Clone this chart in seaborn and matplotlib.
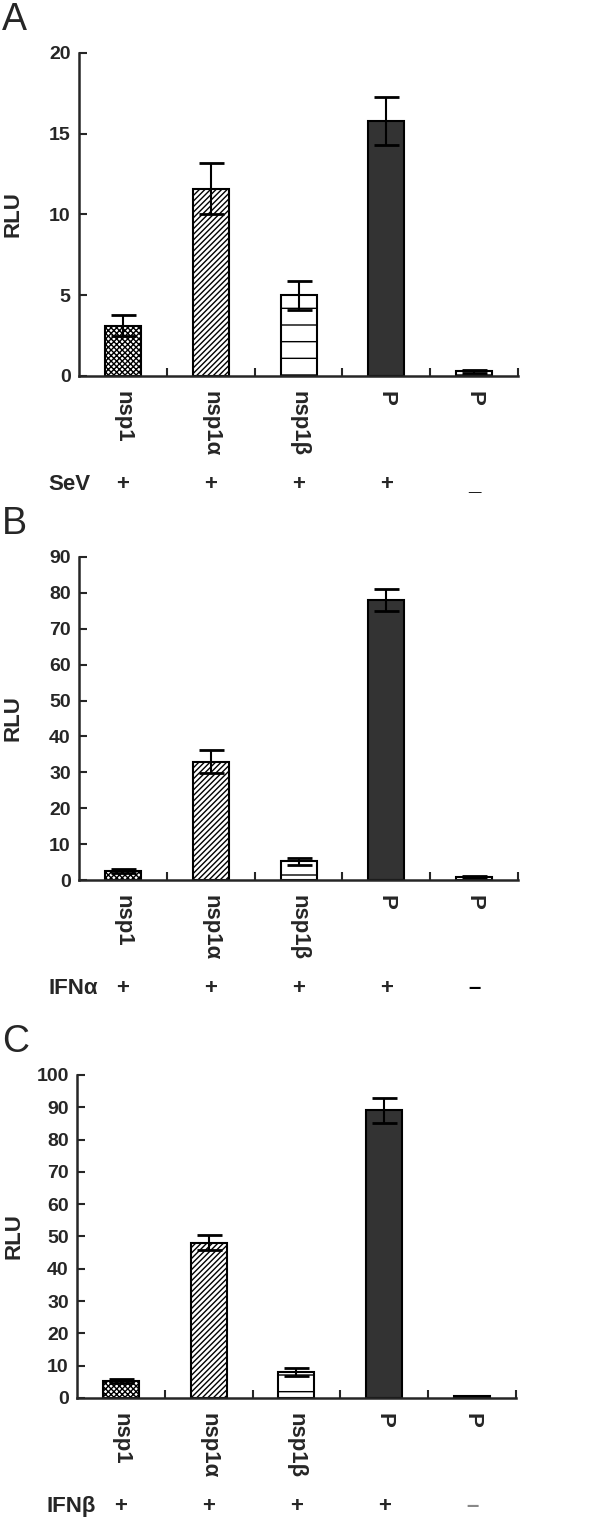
"""Luciferase reporter assay: nsp1 / nsp1a / nsp1b vs P control (panels A-C)."""

import matplotlib
matplotlib.use("Agg")
import matplotlib.pyplot as plt
import matplotlib.transforms as mtransforms
import seaborn as sns

# categories (unique keys so seaborn does not merge the two "P" bars)
keys = ["nsp1", "nsp1a", "nsp1b", "P+", "P-"]
tick_labels = ["nsp1", "nsp1α", "nsp1β", "P", "P"]
treat_signs = ["+", "+", "+", "+", "–"]

# panel A: SeV
sev_vals = [3.1, 11.6, 5.0, 15.8, 0.3]
sev_errs = [0.65, 1.6, 0.9, 1.5, 0.1]
# panel B: IFN alpha
ifna_vals = [2.6, 33.0, 5.2, 78.0, 0.9]
ifna_errs = [0.6, 3.2, 1.0, 3.1, 0.2]
# panel C: IFN beta
ifnb_vals = [5.2, 48.0, 8.0, 89.0, 0.5]
ifnb_errs = [0.7, 2.3, 1.3, 4.0, 0.1]

hatches = ["xxxxxx", "//////", "-", None, "-"]
faces = ["white", "white", "white", "#333333", "white"]

sns.set_style("ticks")
plt.rcParams["font.family"] = ["Liberation Sans", "DejaVu Sans"]
plt.rcParams["font.weight"] = "bold"
plt.rcParams["hatch.linewidth"] = 1.0

fig = plt.figure(figsize=(6.13, 15.21), dpi=100)


def draw_panel(rect, letter, vals, errs, ymax, ystep, treat_name, minus_style):
    ax = fig.add_axes(rect)
    sns.barplot(x=keys, y=vals, ax=ax, color="white", edgecolor="black",
                linewidth=1.5, width=0.41, errorbar=None)
    for patch, h, fc in zip(ax.patches, hatches, faces):
        patch.set_facecolor(fc)
        if h:
            patch.set_hatch(h)
    ax.errorbar(range(len(keys)), vals, yerr=errs, fmt="none", ecolor="black",
                elinewidth=1.5, capsize=9, capthick=2)

    ax.set_xlim(-0.5, 4.5)
    ax.set_ylim(0, ymax)
    ax.set_yticks(range(0, ymax + 1, ystep))
    ax.set_xticks([0.5, 1.5, 2.5, 3.5, 4.5])
    ax.set_xticklabels([])
    ax.set_xticks(range(len(keys)), minor=True)
    ax.set_xticklabels(tick_labels, minor=True, rotation=270, fontsize=16,
                       fontweight="bold", va="top", ha="center")
    ax.tick_params(axis="x", which="major", direction="in", length=6, width=1.5)
    ax.tick_params(axis="x", which="minor", length=0, pad=11)
    ax.tick_params(axis="y", direction="in", length=6, width=1.5, labelsize=14, pad=6)

    sns.despine(ax=ax)
    ax.spines["left"].set_linewidth(1.8)
    ax.spines["bottom"].set_linewidth(1.8)

    ax.set_xlabel("")
    ax.set_ylabel("RLU", fontsize=16, fontweight="bold")
    left_px = rect[0] * 613
    ax.yaxis.set_label_coords((24 - left_px) / (rect[2] * 613), 0.5)

    # treatment row under the category labels
    trans = mtransforms.blended_transform_factory(ax.transData, ax.transAxes)
    ax.text(-0.85, -0.335, treat_name, transform=trans, fontsize=16,
            fontweight="bold", ha="left", va="center")
    for i, s in enumerate(treat_signs):
        if i == 4:
            ax.text(i, -0.335, minus_style[0], transform=trans, fontsize=16,
                    ha="center", va="center", color=minus_style[1])
        else:
            ax.text(i, -0.335, s, transform=trans, fontsize=16,
                    fontweight="bold", ha="center", va="center")

    fig.text(0.003, rect[1] + rect[3] + 0.0215, letter, fontsize=27,
             fontweight="normal", ha="left", va="center")
    return ax


draw_panel([0.129, 0.7528, 0.716, 0.2124], "A", sev_vals, sev_errs, 20, 5,
           "SeV", ("_", "black"))
draw_panel([0.129, 0.4214, 0.716, 0.2124], "B", ifna_vals, ifna_errs, 90, 10,
           "IFNα", ("–", "black"))
draw_panel([0.1256, 0.0809, 0.716, 0.2124], "C", ifnb_vals, ifnb_errs, 100, 10,
           "IFNβ", ("–", "#888888"))

fig.savefig("out.png", dpi=100)
plt.close(fig)
